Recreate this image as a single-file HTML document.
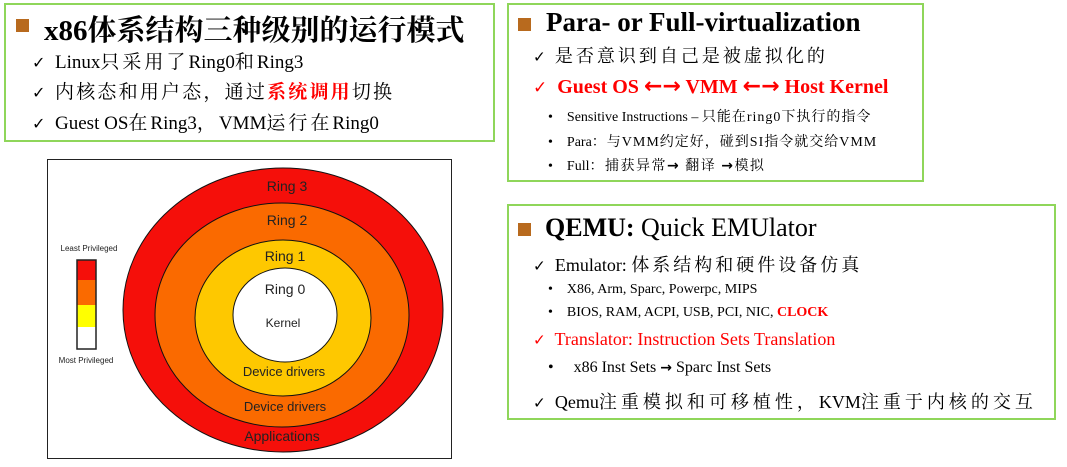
<!DOCTYPE html>
<html><head><meta charset="utf-8"><style>
body{margin:0;width:1067px;height:467px;background:#fff;position:relative;overflow:hidden;font-family:"Liberation Serif","Noto Serif CJK SC",serif;color:#000}
.box{position:absolute;border:2px solid #8fd65a;box-sizing:border-box}
.t{position:absolute;white-space:nowrap}
.sq{position:absolute;width:13px;height:13px;background:#b86a1e}
.r{color:#f00}
.c{letter-spacing:3px}
.k{font-family:"DejaVu Sans",sans-serif;font-size:0.85em}
.a{font-family:"DejaVu Sans",sans-serif;font-weight:bold}
</style></head><body>
<div class="box" style="left:4px;top:3px;width:491px;height:139px"></div>
<div class="sq" style="left:16px;top:19px"></div>
<div class="t" style="left:44px;top:8px;font-size:29px;font-weight:bold">x86<span style="letter-spacing:0px">体系结构三种级别的运行模式</span></div>
<div class="t" style="left:32px;top:47px;font-size:19px"><span class="k">✓</span>&nbsp; Linux<span class="c">只采用了</span>Ring0<span class="c">和</span>Ring3</div>
<div class="t" style="left:32px;top:77px;font-size:19px"><span class="k">✓</span>&nbsp; <span style="letter-spacing:2.2px">内核态和用户态，通过<b class="r">系统调用</b>切换</span></div>
<div class="t" style="left:32px;top:108px;font-size:19px"><span class="k">✓</span>&nbsp; Guest OS<span class="c">在</span>Ring3<span class="c">，</span>VMM<span class="c">运行在</span>Ring0</div>

<div class="box" style="left:507px;top:3px;width:417px;height:179px"></div>
<div class="sq" style="left:518px;top:18px"></div>
<div class="t" style="left:546px;top:7px;font-size:27px;font-weight:bold">Para- or Full-virtualization</div>
<div class="t" style="left:533px;top:42px;font-size:18px"><span class="k">✓</span>&nbsp; <span class="c">是否意识到自己是被虚拟化的</span></div>
<div class="t r" style="left:533px;top:74px;font-size:20px"><span class="k">✓</span>&nbsp; <b>Guest OS <span class="a" style="font-size:22px">←→</span> VMM <span class="a" style="font-size:22px">←→</span> Host Kernel</b></div>
<div class="t" style="left:548px;top:106px;font-size:14px">•&nbsp;&nbsp;&nbsp;&nbsp;Sensitive Instructions – <span style="letter-spacing:1px">只能在ring0下执行的指令</span></div>
<div class="t" style="left:548px;top:131px;font-size:14px">•&nbsp;&nbsp;&nbsp;&nbsp;Para<span style="letter-spacing:1px">：与VMM约定好，碰到SI指令就交给VMM</span></div>
<div class="t" style="left:548px;top:155px;font-size:14px">•&nbsp;&nbsp;&nbsp;&nbsp;Full<span style="letter-spacing:1.5px">：捕获异常<span class="a">→</span> 翻译 <span class="a">→</span>模拟</span></div>

<div class="box" style="left:507px;top:204px;width:549px;height:216px"></div>
<div class="sq" style="left:518px;top:223px"></div>
<div class="t" style="left:545px;top:213px;font-size:26px"><b>QEMU:</b> Quick EMUlator</div>
<div class="t" style="left:533px;top:251px;font-size:18px"><span class="k">✓</span>&nbsp; Emulator: <span class="c">体系结构和硬件设备仿真</span></div>
<div class="t" style="left:548px;top:282px;font-size:14px">•&nbsp;&nbsp;&nbsp;&nbsp;X86, Arm, Sparc, Powerpc, MIPS</div>
<div class="t" style="left:548px;top:305px;font-size:14px">•&nbsp;&nbsp;&nbsp;&nbsp;BIOS, RAM, ACPI, USB, PCI, NIC, <b class="r">CLOCK</b></div>
<div class="t r" style="left:533px;top:329px;font-size:18px"><span class="k">✓</span>&nbsp; Translator: Instruction Sets Translation</div>
<div class="t" style="left:548px;top:359px;font-size:16px">•&nbsp;&nbsp;&nbsp;&nbsp; x86 Inst Sets <span class="a" style="font-size:14px">→</span> Sparc Inst Sets</div>
<div class="t" style="left:533px;top:388px;font-size:18px"><span class="k">✓</span>&nbsp; Qemu<span style="letter-spacing:4px">注重模拟和可移植性，</span>KVM<span style="letter-spacing:4px">注重于内核的交互</span></div>

<svg style="position:absolute;left:0;top:0" width="1067" height="467" font-family="Liberation Sans, sans-serif">
<rect x="47.5" y="159.5" width="404" height="299" fill="#fff" stroke="#222" stroke-width="1"/>
<ellipse cx="283" cy="310" rx="160" ry="142" fill="#f50f0a" stroke="#111"/>
<ellipse cx="282" cy="315" rx="127" ry="112" fill="#fa6a00" stroke="#111"/>
<ellipse cx="283" cy="318" rx="88" ry="78" fill="#fec800" stroke="#111"/>
<ellipse cx="285" cy="315" rx="52" ry="47" fill="#fff" stroke="#111"/>
<g font-size="14" text-anchor="middle" fill="#222">
<text x="287" y="191">Ring 3</text>
<text x="287" y="225">Ring 2</text>
<text x="285" y="261">Ring 1</text>
<text x="285" y="294">Ring 0</text>
<text x="283" y="327" font-size="12">Kernel</text>
<text x="284" y="376" font-size="13">Device drivers</text>
<text x="285" y="411" font-size="13">Device drivers</text>
<text x="282" y="441" font-size="14">Applications</text>
<text x="89" y="251" font-size="8">Least Privileged</text>
<text x="86" y="363" font-size="8">Most Privileged</text>
</g>
<rect x="77" y="260" width="19" height="20" fill="#f50f0a"/>
<rect x="77" y="280" width="19" height="25" fill="#fa6a00"/>
<rect x="77" y="305" width="19" height="22" fill="#ffff00"/>
<rect x="77" y="327" width="19" height="22" fill="#fff"/>
<rect x="77" y="260" width="19" height="89" fill="none" stroke="#222" stroke-width="1.5"/>
</svg>
</body></html>
